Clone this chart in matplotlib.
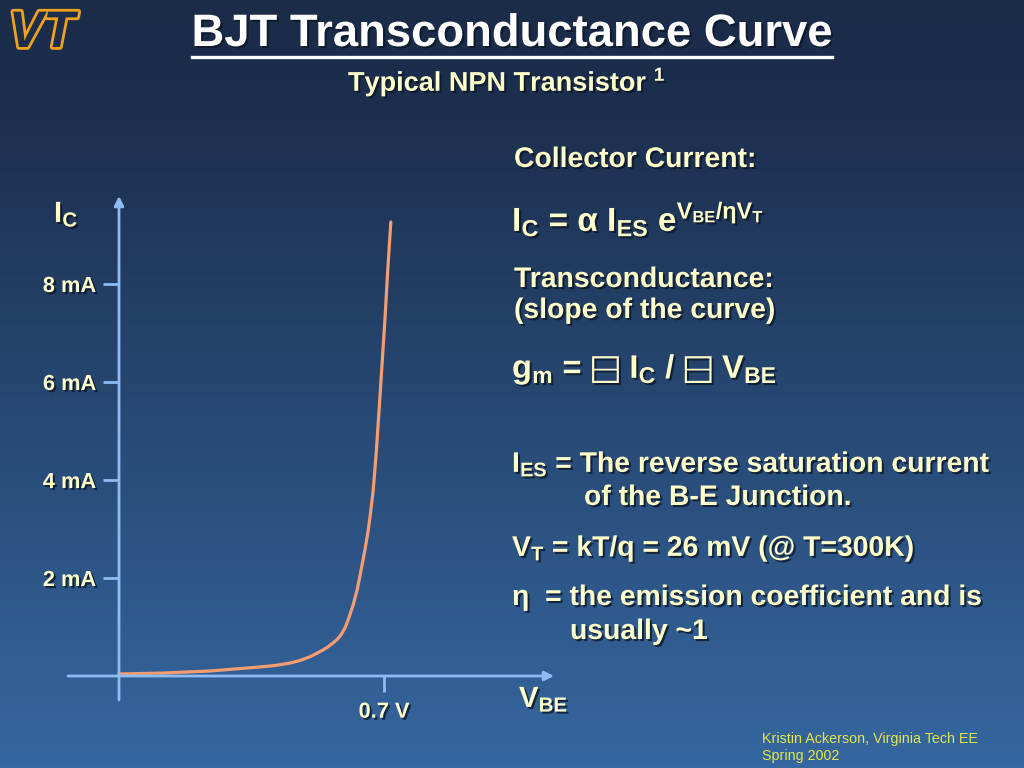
import numpy as np
import matplotlib
matplotlib.use("Agg")
import matplotlib.pyplot as plt
import matplotlib.patheffects as pe
from matplotlib.colors import LinearSegmentedColormap
from matplotlib.lines import Line2D

plt.rcParams['font.family'] = ['Liberation Sans', 'DejaVu Sans']
plt.rcParams['mathtext.fontset'] = 'custom'
plt.rcParams['mathtext.rm'] = 'Liberation Sans:bold'
plt.rcParams['mathtext.it'] = 'Liberation Sans:bold'
plt.rcParams['mathtext.bf'] = 'Liberation Sans:bold'
plt.rcParams['mathtext.fallback'] = 'stix'

# curve (V_BE in volts, I_C in mA)
vbe = [0.0, 0.119, 0.240, 0.372, 0.412, 0.452, 0.478, 0.505, 0.539, 0.552,
       0.565, 0.576, 0.586, 0.597, 0.607, 0.618, 0.629, 0.639, 0.650, 0.658,
       0.663, 0.671, 0.679, 0.687, 0.695, 0.703, 0.710, 0.718]
ic = [0.041, 0.061, 0.102, 0.184, 0.214, 0.265, 0.316, 0.394, 0.531, 0.596,
      0.673, 0.745, 0.837, 0.980, 1.184, 1.439, 1.755, 2.143, 2.592, 2.959,
      3.245, 3.755, 4.510, 5.429, 6.388, 7.347, 8.306, 9.265]

ytick_vals = [2, 4, 6, 8]
ytick_labels = ["2 mA", "4 mA", "6 mA", "8 mA"]
xtick_vals = [0.7]
xtick_labels = ["0.7 V"]

cream = "#ffffcc"
axis_col = "#8dbcf5"
curve_col = "#f59d72"
W, H = 1024, 768

def px(x, y):
    return x / W, 1 - y / H

shadow = [pe.withSimplePatchShadow(offset=(1.5, -1.5), shadow_rgbFace="#0b1424", alpha=0.75)]

fig = plt.figure(figsize=(W / 100, H / 100), dpi=100)

# background gradient
bg = fig.add_axes([0, 0, 1, 1], zorder=-5)
cmap = LinearSegmentedColormap.from_list("slide", [(0, "#1b2c49"), (0.15, "#1c2f4e"), (1, "#3567a0")])
grad = np.linspace(0, 1, 256).reshape(-1, 1)
bg.imshow(grad, aspect="auto", cmap=cmap, extent=[0, 1, 0, 1], origin="upper")
bg.axis("off")

# chart axes placed in pixel space of the slide
l, r, b, t = 68, 560, 700, 190
ax = fig.add_axes([l / W, 1 - b / H, (r - l) / W, (b - t) / H])
ax.patch.set_alpha(0)
ax.set_xlim((l - 119) / 378.6, (r - 119) / 378.6)
ax.set_ylim((676 - b) / 49, (676 - t) / 49)

ax.plot(vbe, ic, color=curve_col, lw=2.3, solid_capstyle="round", solid_joinstyle="round", zorder=3)

ax.spines["left"].set_position(("data", 0))
ax.spines["bottom"].set_position(("data", 0))
for s in ax.spines.values():
    s.set_visible(False)
ax.annotate("", xy=(0, (676 - 196) / 49), xytext=(0, (676 - b) / 49),
            arrowprops=dict(arrowstyle="-|>", color=axis_col, lw=2, mutation_scale=14, shrinkA=0, shrinkB=0))
ax.annotate("", xy=((554 - 119) / 378.6, 0), xytext=((l - 119) / 378.6, 0),
            arrowprops=dict(arrowstyle="-|>", color=axis_col, lw=2, mutation_scale=14, shrinkA=0, shrinkB=0))

ax.set_yticks(ytick_vals)
ax.set_yticklabels(ytick_labels)
ax.set_xticks(xtick_vals)
ax.set_xticklabels(xtick_labels)
ax.tick_params(axis="y", direction="out", length=11.5, width=2, color=axis_col, pad=5,
               labelcolor=cream, labelsize=15.7)
ax.tick_params(axis="x", direction="out", length=11.5, width=2, color=axis_col, pad=7,
               labelcolor=cream, labelsize=15.7)
for lab in ax.get_xticklabels() + ax.get_yticklabels():
    lab.set_fontweight("bold")
    lab.set_path_effects(shadow)

# axis names
fig.text(*px(54, 222), r"I$_\mathrm{C}$", color=cream, fontsize=21, fontweight="bold",
         va="baseline", path_effects=shadow)
fig.text(*px(519, 707), r"V$_\mathrm{BE}$", color=cream, fontsize=21, fontweight="bold",
         va="baseline", path_effects=shadow)

# logo
fig.text(*px(9, 47), "VT", color="#1c2e4b", fontsize=37, fontweight="heavy", style="italic",
         va="baseline", path_effects=[pe.Stroke(linewidth=4, foreground="#f0a11e"), pe.Normal()])

# title
fig.text(*px(512, 46), "BJT Transconductance Curve", color="white", fontsize=32.7,
         fontweight="bold", ha="center", va="baseline", path_effects=shadow)
fig.add_artist(Line2D([192 / W, 832 / W], [1 - 57 / H, 1 - 57 / H], color="white", lw=2.4))
fig.text(*px(348, 91), r"Typical NPN Transistor $^{\mathrm{1}}$", color=cream, fontsize=19.5,
         fontweight="bold", ha="left", va="baseline", path_effects=shadow)

# right hand notes
def note(x, y, s, size=20.4):
    fig.text(*px(x, y), s, color=cream, fontsize=size, fontweight="bold", va="baseline",
             path_effects=shadow)

note(514, 167, "Collector Current:")
note(512, 231, r"$\mathrm{I_C}$ = α $\mathrm{I_{ES}}$ e$^{\mathrm{V_{BE}/ηV_T}}$", 24)
note(514, 287, "Transconductance:")
note(514, 318, "(slope of the curve)")
note(512, 378, r"$\mathrm{g_m}$ = $\boxminus$ $\mathrm{I_C}$ / $\boxminus$ $\mathrm{V_{BE}}$", 23.5)
note(512, 472, r"$\mathrm{I_{ES}}$ = The reverse saturation current")
note(584, 505, "of the B-E Junction.")
note(512, 556, r"$\mathrm{V_T}$ = kT/q = 26 mV (@ T=300K)")
note(512, 605, "η  = the emission coefficient and is")
note(570, 639, "usually ~1")

# footer
fig.text(*px(762, 743), "Kristin Ackerson, Virginia Tech EE", color="#e4e64a", fontsize=10.3, va="baseline")
fig.text(*px(762, 760), "Spring 2002", color="#e4e64a", fontsize=10.3, va="baseline")

fig.savefig("out.png", dpi=100)
